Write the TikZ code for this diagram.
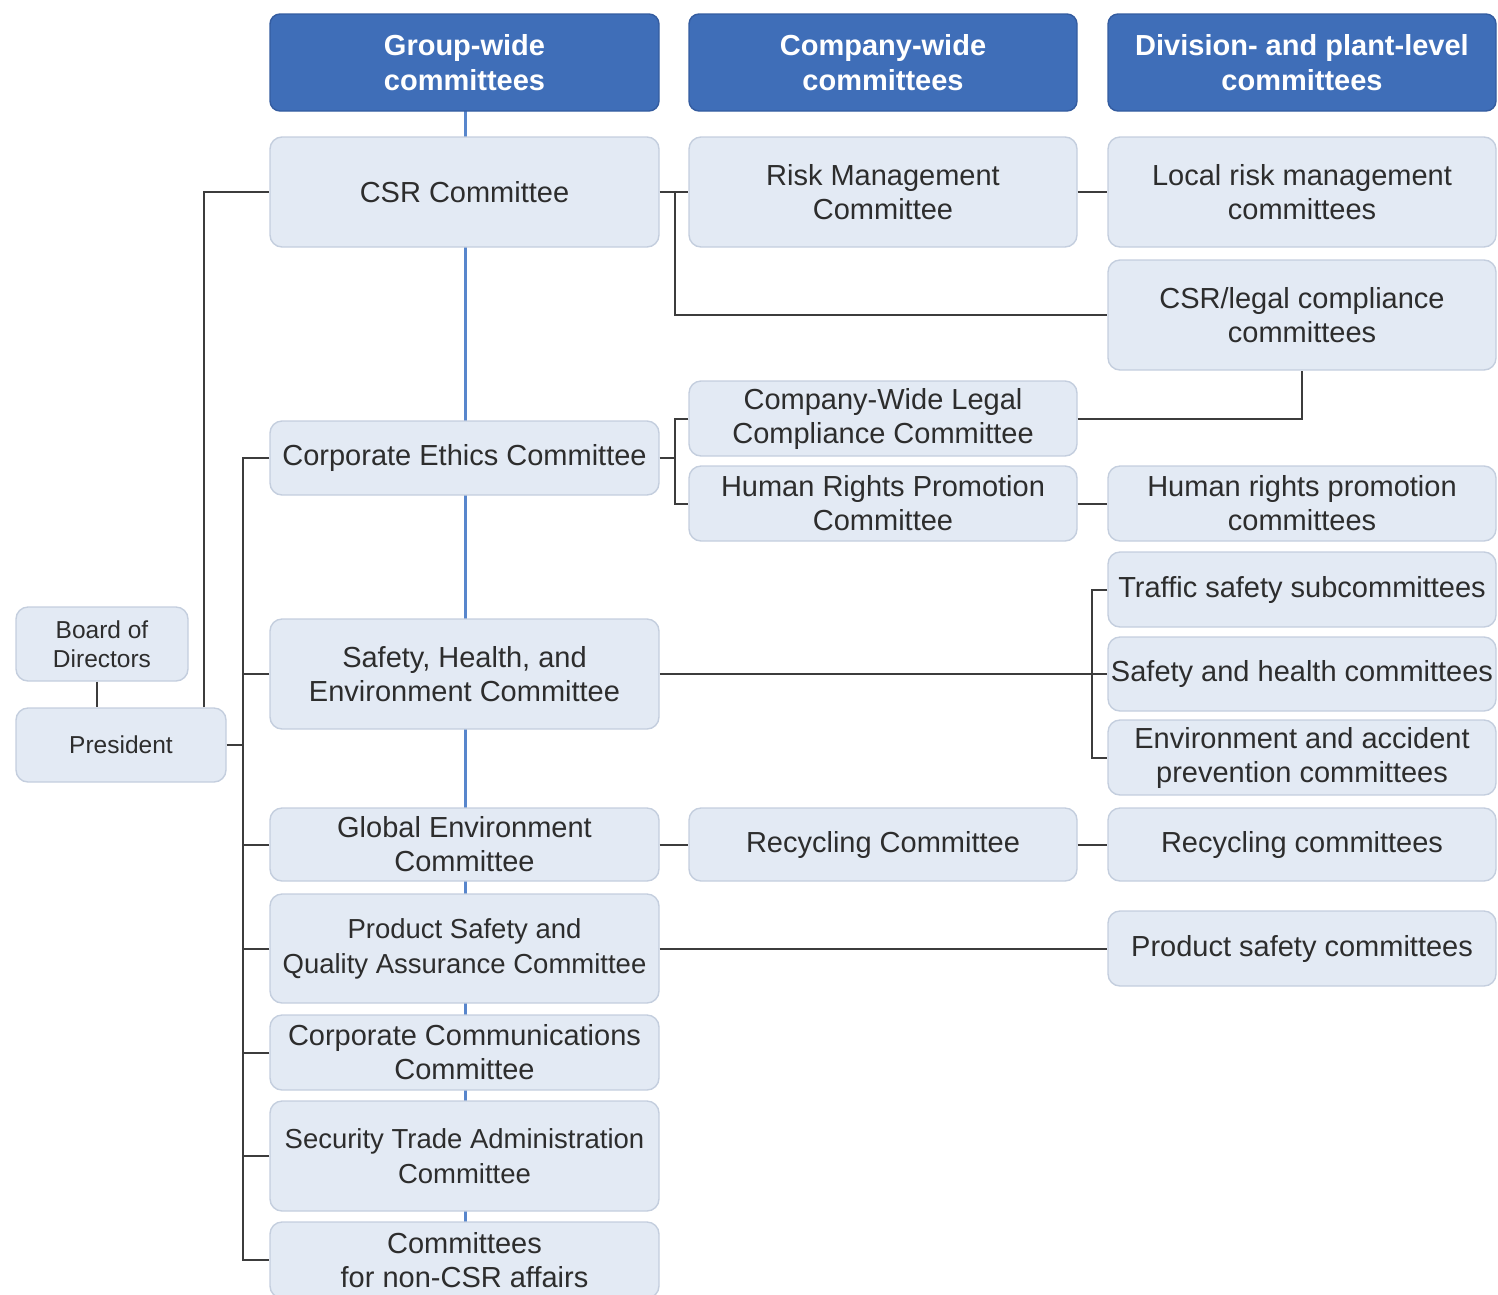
\documentclass[tikz,border=0pt]{standalone}
\usepackage{fontspec}
\newfontfamily\lib{Liberation Sans}
\definecolor{boxfill}{RGB}{227,234,244}
\definecolor{boxborder}{RGB}{196,206,222}
\definecolor{hdrfill}{RGB}{63,110,184}
\definecolor{hdrborder}{RGB}{52,92,160}
\definecolor{txt}{RGB}{45,45,45}
\definecolor{conn}{RGB}{60,60,60}
\definecolor{trunkblue}{RGB}{88,134,204}
\begin{document}
\begin{tikzpicture}[x=1pt,y=-1pt,
  box/.style={draw=boxborder, fill=boxfill, rounded corners=12pt, line width=1.4pt,
    align=center, text=txt, inner sep=0pt, font=\lib\fontsize{29}{34}\selectfont},
  hdr/.style={draw=hdrborder, fill=hdrfill, rounded corners=10pt, line width=1.4pt,
    align=center, text=white, inner sep=0pt, font=\lib\bfseries\fontsize{29}{35}\selectfont},
  small/.style={font=\lib\fontsize{24.5}{29.5}\selectfont},
  tight/.style={font=\lib\fontsize{27.5}{35}\selectfont},
  conn/.style={draw=conn, line width=2pt},
  colA/.style={minimum width=389pt},
  colB/.style={minimum width=388pt},
  colC/.style={minimum width=388pt}]
\useasboundingbox (0,0) rectangle (1498,1294);
\begin{scope}
\clip (0,0) rectangle (1498,1294);
% blue trunk behind boxes
\coordinate (tt) at (465,111);
\coordinate (tb) at (465,1222);
\draw[trunkblue, line width=3pt] (tt) -- (tb);
% headers
\node[hdr, colA, minimum height=97pt] (h1) at (464.5,62.5) {Group-wide\\committees};
\node[hdr, colB, minimum height=97pt] (h2) at (883,62.5) {Company-wide\\committees};
\node[hdr, colC, minimum height=97pt] (h3) at (1302,62.5) {Division- and plant-level\\committees};
% column A
\node[box, colA, minimum height=110pt] (csr) at (464.5,192) {CSR Committee};
\node[box, colA, minimum height=74pt] (ethics) at (464.5,458) {Corporate Ethics Committee};
\node[box, colA, minimum height=110pt] (she) at (464.5,674) {Safety, Health, and\\Environment Committee};
\node[box, colA, minimum height=73pt] (genv) at (464.5,844.5) {Global Environment\\Committee};
\node[box, colA, tight, minimum height=109pt] (psqa) at (464.5,948.5) {Product Safety and\\Quality Assurance Committee};
\node[box, colA, minimum height=75pt] (cc) at (464.5,1052.5) {Corporate Communications\\Committee};
\node[box, colA, tight, minimum height=110pt] (sta) at (464.5,1156) {Security Trade Administration\\Committee};
\node[box, colA, minimum height=76pt] (noncsr) at (464.5,1260) {Committees\\for non-CSR affairs};
% column B
\node[box, colB, minimum height=110pt] (risk) at (883,192) {Risk Management\\Committee};
\node[box, colB, minimum height=75pt] (cwlegal) at (883,418.5) {Company-Wide Legal\\Compliance Committee};
\node[box, colB, minimum height=75pt] (hrp) at (883,503.5) {Human Rights Promotion\\Committee};
\node[box, colB, minimum height=73pt] (recy) at (883,844.5) {Recycling Committee};
% column C
\node[box, colC, minimum height=110pt] (local) at (1302,192) {Local risk management\\committees};
\node[box, colC, minimum height=110pt] (csrlegal) at (1302,315) {CSR/legal compliance\\committees};
\node[box, colC, minimum height=75pt] (hrpc) at (1302,503.5) {Human rights promotion\\committees};
\node[box, colC, minimum height=75pt] (traffic) at (1302,589.5) {Traffic safety subcommittees};
\node[box, colC, minimum height=74pt] (sah) at (1302,674) {Safety and health committees};
\node[box, colC, minimum height=75pt] (env) at (1302,757.5) {Environment and accident\\prevention committees};
\node[box, colC, minimum height=73pt] (recyc) at (1302,844.5) {Recycling committees};
\node[box, colC, minimum height=75pt] (psc) at (1302,948.5) {Product safety committees};
% left
\node[box, small, minimum width=172pt, minimum height=74pt] (board) at (102,644) {Board of\\Directors};
\node[box, small, minimum width=210pt, minimum height=74pt] (pres) at (121,745) {President};
% connectors
\coordinate (bdx) at (97,0);
\coordinate (pcx) at (204,0);
\coordinate (bx) at (675,0);
\coordinate (trk) at (243,0);
\draw[conn] (board.south -| bdx) -- (pres.north -| bdx);
\draw[conn] (pres.east) -- (pres.east -| trk);
\draw[conn] (ethics.west) -- (ethics.west -| trk) |- (noncsr.west);
\foreach \n in {she,genv,psqa,cc,sta} \draw[conn] (\n.west) -- (\n.west -| trk);
\draw[conn] (pres.north -| pcx) |- (csr.west);
\draw[conn] (csr.east) -- (risk.west);
\draw[conn] (csr.east -| bx) |- (csrlegal.west);
\draw[conn] (risk.east) -- (local.west);
\draw[conn] (ethics.east) -- (ethics.east -| bx);
\draw[conn] (cwlegal.west) -- (cwlegal.west -| bx) |- (hrp.west);
\draw[conn] (cwlegal.east) -| (csrlegal.south);
\draw[conn] (hrp.east) -- (hrpc.west);
\draw[conn] (she.east) -- (sah.west);
\draw[conn] (traffic.west) -- ++(-15,0) |- (env.west);
\draw[conn] (genv.east) -- (recy.west);
\draw[conn] (recy.east) -- (recyc.west);
\draw[conn] (psqa.east) -- (psc.west);
\end{scope}
\end{tikzpicture}
\end{document}
